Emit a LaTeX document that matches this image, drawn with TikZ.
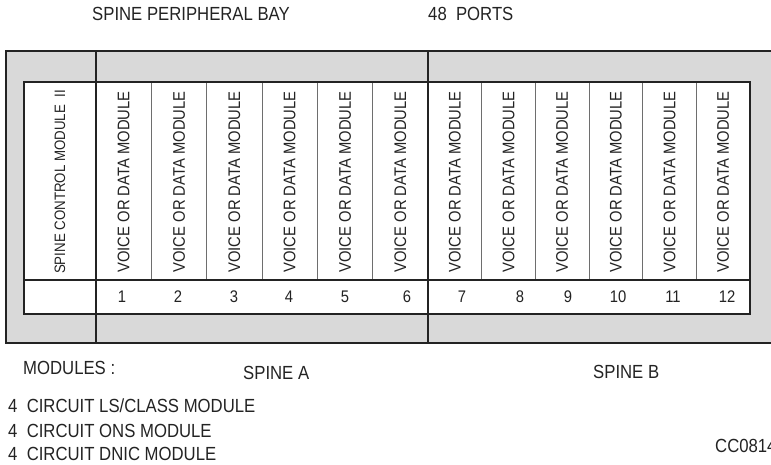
\documentclass[tikz,border=0pt]{standalone}
\usepackage{fontspec}
\setmainfont[FakeStretch=0.88]{Liberation Sans}
\definecolor{baygray}{RGB}{217,217,217}
\definecolor{ink}{RGB}{35,35,35}
\definecolor{thin}{RGB}{110,110,110}
\begin{document}
\begin{tikzpicture}[x=1pt,y=-1pt,
  lbl/.style={inner sep=0pt,text=ink,font=\fontsize{19}{22}\selectfont},
  vlbl/.style={inner sep=0pt,text=ink,rotate=90,font=\fontsize{16.8}{20}\selectfont},
  num/.style={inner sep=0pt,text=ink,font=\fontsize{16.8}{20}\selectfont},
  heavy/.style={draw=ink,line width=2.4pt},
  sep/.style={draw=thin,line width=0.9pt}]
\useasboundingbox (0,0) rectangle (771,464);
% outer bay
\path[fill=baygray] (6,51) rectangle (790,343);
\draw[heavy] (790,51) -- (6,51) -- (6,343) -- (790,343);
% inner card area
\path[fill=white] (24,82) rectangle (750,314);
% thin separators
\foreach \x in {151.3,206.7,262,317.3,372.7,481.7,535.3,589,642.7,696.3}
  \draw[sep] (\x,82) -- (\x,280);
\draw[draw=ink,line width=1.4pt] (24,280) -- (750,280);
\draw[heavy] (24,82) rectangle (750,314);
% spine dividers
\draw[heavy] (96,51) -- (96,343);
\draw[heavy] (428,51) -- (428,343);
% vertical labels
\node[vlbl,font=\fontsize{15.1}{18}\selectfont] (ctl) at (60,182) {SPINE CONTROL MODULE\ \ II};
\foreach \c/\x in {1/123.6,2/179,3/234.3,4/289.7,5/345,6/400.3,7/454.8,8/508.5,9/562.2,10/615.8,11/669.5,12/723.2}
  \node[vlbl] (m\c) at (\x,182) {VOICE OR DATA MODULE};
% numbers
\foreach \c/\x in {1/122,2/178,3/234,4/289,5/345,6/407,7/462,8/520,9/568,10/618,11/673,12/727}
  \node[num] (n\c) at (\x,297) {\c};
% texts
\node[lbl,anchor=west] (title) at (92,14) {SPINE PERIPHERAL BAY};
\node[lbl,anchor=west] (ports) at (428,14) {48\ \ PORTS};
\node[lbl,anchor=west] (mods) at (23,368) {MODULES :};
\node[lbl,anchor=west] (spa) at (243,373) {SPINE A};
\node[lbl,anchor=west] (spb) at (593,372) {SPINE B};
\node[lbl,anchor=west] (l1) at (8,406) {4\ \ CIRCUIT LS/CLASS MODULE};
\node[lbl,anchor=west] (l2) at (8,431) {4\ \ CIRCUIT ONS MODULE};
\node[lbl,anchor=west] (l3) at (8,454) {4\ \ CIRCUIT DNIC MODULE};
\node[lbl,anchor=west] (cc) at (715,446) {CC0814};
\end{tikzpicture}
\end{document}
